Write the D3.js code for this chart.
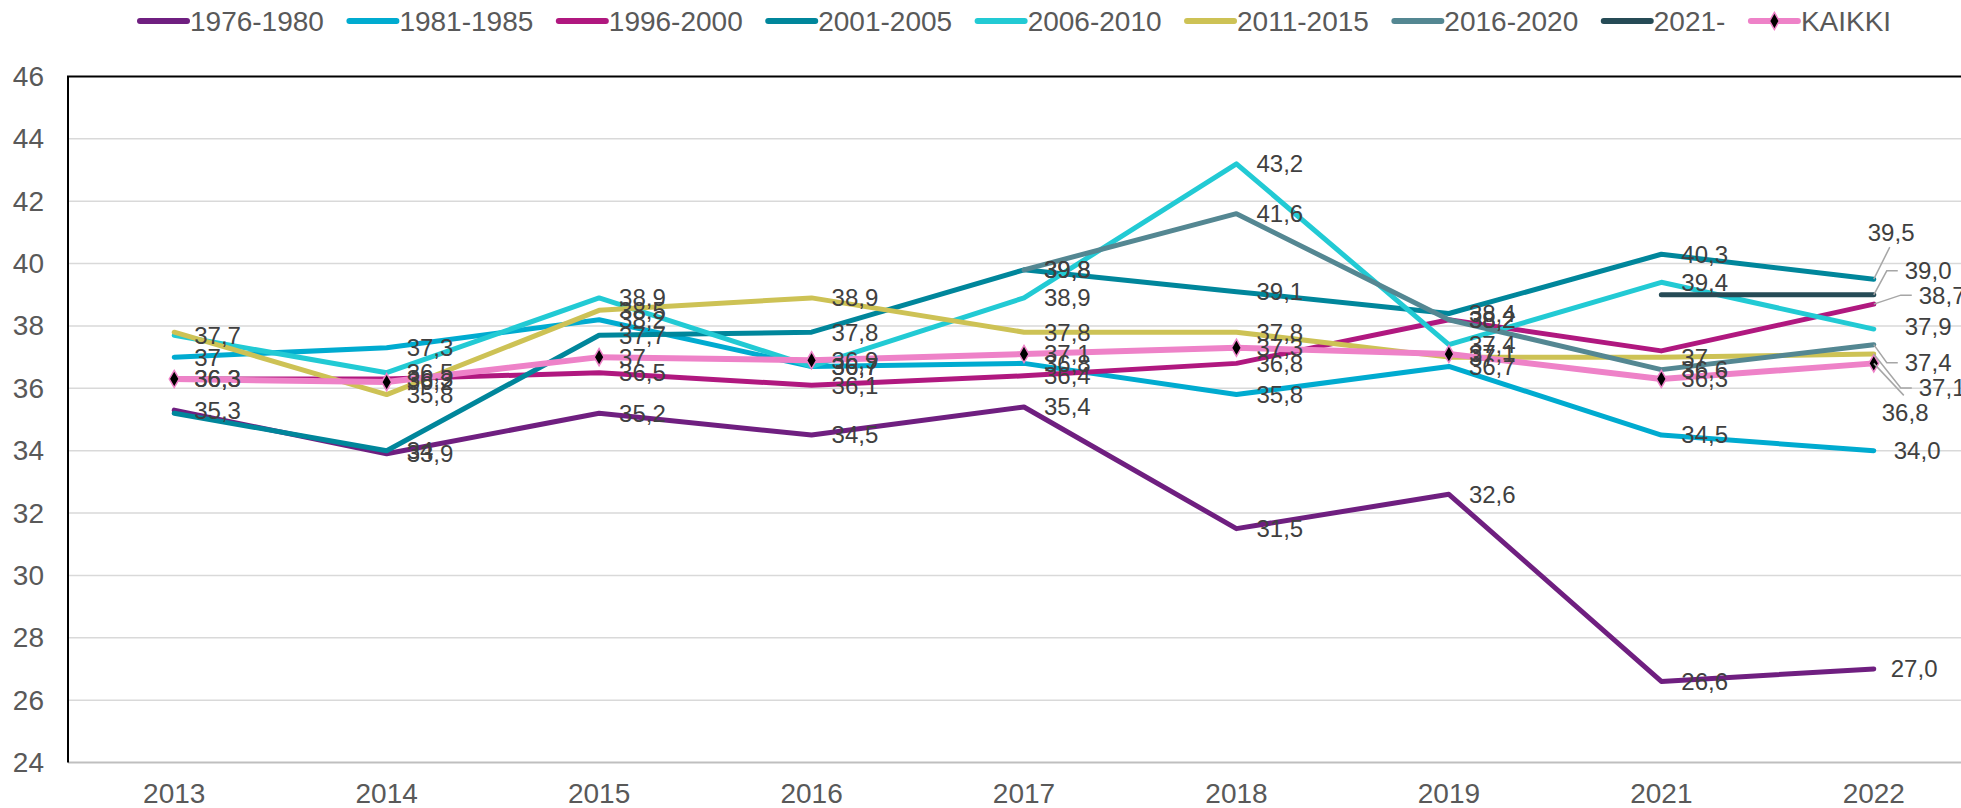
<!DOCTYPE html>
<html>
<head>
<meta charset="utf-8">
<script src="https://cdn.jsdelivr.net/npm/d3@7"></script>
<style>
  html, body { margin: 0; padding: 0; background: #fff; overflow: hidden; }
  text { font-family: "Liberation Sans", Arial, sans-serif; }
</style>
</head>
<body>
<div id="chart"></div>
<script>
// vuodet (x-akseli)
const years = ["2013", "2014", "2015", "2016", "2017", "2018", "2019", "2021", "2022"];

// sarjat, arvot luettu kuvasta
const s1976 = [35.3, 33.9, 35.2, 34.5, 35.4, 31.5, 32.6, 26.6, 27.0];
const s1981 = [37.0, 37.3, 38.2, 36.7, 36.8, 35.8, 36.7, 34.5, 34.0];
const s1996 = [36.3, 36.3, 36.5, 36.1, 36.4, 36.8, 38.2, 37.2, 38.7];
const s2001 = [35.2, 34.0, 37.7, 37.8, 39.8, 39.1, 38.4, 40.3, 39.5];
const s2006 = [37.7, 36.5, 38.9, 36.7, 38.9, 43.2, 37.4, 39.4, 37.9];
const s2011 = [37.8, 35.8, 38.5, 38.9, 37.8, 37.8, 37.0, 37.0, 37.1];
const s2016 = [null, null, null, null, 39.8, 41.6, 38.2, 36.6, 37.4];
const s2021 = [null, null, null, null, null, null, null, 39.0, 39.0];
const kaikki = [36.3, 36.2, 37.0, 36.9, 37.1, 37.3, 37.1, 36.3, 36.8];

const seriesNames = ["1976-1980", "1981-1985", "1996-2000", "2001-2005", "2006-2010", "2011-2015", "2016-2020", "2021-", "KAIKKI"];
const seriesValues = [s1976, s1981, s1996, s2001, s2006, s2011, s2016, s2021, kaikki];
const colors = ["#6f1f80", "#00abd0", "#b0187f", "#00869b", "#22cad4", "#cdc255", "#548792", "#264b56", "#ee82c8"];

const yTicks = [24, 26, 28, 30, 32, 34, 36, 38, 40, 42, 44, 46];

// pisteet joilla ei näy arvoa kuvassa
const hiddenLabels = ["2001-2005|2013", "2011-2015|2013", "1996-2000|2021", "2021-|2021"];

// viimeisen pisteen siirretyt tunnisteet (dx, dy pisteestä)
const lastLabelShift = {
  "1976-1980": [17, 0],
  "1981-1985": [20, 0],
  "1996-2000": [45, -9],
  "2001-2005": [-6, -47],
  "2006-2010": [31, -2],
  "2011-2015": [45, 34],
  "2016-2020": [31, 18],
  "2021-": [31, -24],
  "KAIKKI": [8, 49]
};

const width = 1961,
  height = 808;
const plot = { left: 68, top: 76.5, right: 1980, bottom: 762.5 };
const font = '"Liberation Sans", Arial, sans-serif';

const svg = d3
  .select("#chart")
  .append("svg")
  .attr("width", width)
  .attr("height", height);

const x = d3.scaleBand().domain(years).range([plot.left, plot.right]).padding(0);
const cx = (yr) => x(yr) + x.bandwidth() / 2;
const y = d3.scaleLinear().domain([24, 46]).range([plot.bottom, plot.top]);

const fmt = (v, last) =>
  (last ? v.toFixed(1) : String(Math.round(v * 10) / 10)).replace(".", ",");

// ruudukko
svg
  .append("g")
  .selectAll("line")
  .data(yTicks.filter((t) => t > 24 && t < 46))
  .join("line")
  .attr("x1", plot.left)
  .attr("x2", width)
  .attr("y1", (d) => y(d))
  .attr("y2", (d) => y(d))
  .style("stroke", "#d9d9d9")
  .style("stroke-width", 1.5);

// y-akseli
const yAxis = svg
  .append("g")
  .attr("transform", `translate(${plot.left},0)`)
  .call(d3.axisLeft(y).tickValues(yTicks).tickSize(0).tickPadding(24));
yAxis.select(".domain").remove();
yAxis
  .selectAll("text")
  .style("font-size", "28px")
  .style("fill", "#595959")
  .style("font-family", font);

// x-akseli
const xAxis = svg
  .append("g")
  .attr("transform", `translate(0,${plot.bottom})`)
  .call(d3.axisBottom(x).tickSize(0).tickPadding(21));
xAxis.select(".domain").remove();
xAxis
  .selectAll("text")
  .style("font-size", "28px")
  .style("fill", "#595959")
  .style("font-family", font);

svg
  .append("line")
  .attr("x1", plot.left)
  .attr("x2", width)
  .attr("y1", plot.bottom)
  .attr("y2", plot.bottom)
  .style("stroke", "#bfbfbf")
  .style("stroke-width", 2);

// kehys (ylä ja vasen)
svg
  .append("path")
  .attr("d", `M${plot.left},${plot.bottom}V${plot.top}H${width + 5}`)
  .style("fill", "none")
  .style("stroke", "#000")
  .style("stroke-width", 2);

// viivat
const series = seriesNames.map((name, i) => ({
  name,
  color: colors[i],
  points: years
    .map((yr, j) => ({ yr, v: seriesValues[i][j], last: j === years.length - 1 }))
    .filter((p) => p.v !== null)
}));

const line = d3
  .line()
  .x((p) => cx(p.yr))
  .y((p) => y(p.v));

svg
  .append("g")
  .selectAll("path")
  .data(series)
  .join("path")
  .attr("d", (s) => line(s.points))
  .style("fill", "none")
  .style("stroke", (s) => s.color)
  .style("stroke-width", (s) => (s.name === "KAIKKI" ? 6 : 5))
  .style("stroke-linejoin", "round")
  .style("stroke-linecap", "round");

// KAIKKI-merkit
const kaikkiSeries = series[series.length - 1];
svg
  .append("g")
  .selectAll("path")
  .data(kaikkiSeries.points)
  .join("path")
  .attr("transform", (p) => `translate(${cx(p.yr)},${y(p.v)})`)
  .attr("d", d3.symbol(d3.symbolDiamond, 85))
  .style("fill", "#000")
  .style("stroke", kaikkiSeries.color)
  .style("stroke-width", 1.5);

// tunnisteet
const labels = [];
series.forEach((s) => {
  s.points.forEach((p) => {
    if (hiddenLabels.includes(`${s.name}|${p.yr}`)) return;
    const px = cx(p.yr),
      py = y(p.v);
    const [dx, dy] = p.last ? lastLabelShift[s.name] : [20, 0];
    labels.push({ text: fmt(p.v, p.last), px, py, lx: px + dx, ly: py + dy, last: p.last });
  });
});

// johtoviivat viimeisille tunnisteille
const leaders = labels.filter((l) => l.last && Math.abs(l.ly - l.py) > 5);
svg
  .append("g")
  .selectAll("polyline")
  .data(leaders)
  .join("polyline")
  .attr("points", (l) => {
    if (l.lx - l.px > 20) {
      return `${l.px},${l.py} ${l.lx - 18},${l.ly} ${l.lx - 7},${l.ly}`;
    }
    const endY = l.ly < l.py ? l.ly + 15 : l.ly - 17;
    return `${l.px},${l.py} ${l.lx + 22},${endY}`;
  })
  .style("fill", "none")
  .style("stroke", "#a6a6a6")
  .style("stroke-width", 1.5);

svg
  .append("g")
  .selectAll("text")
  .data(labels)
  .join("text")
  .attr("x", (l) => l.lx)
  .attr("y", (l) => l.ly)
  .attr("dy", "0.35em")
  .style("font-size", "24px")
  .style("fill", "#404040")
  .text((l) => l.text);

// selite
const legend = svg.append("g").attr("transform", "translate(140,21)");
let lx = 0;
series.forEach((s) => {
  const g = legend.append("g").attr("transform", `translate(${lx},0)`);
  g.append("line")
    .attr("x1", 0)
    .attr("x2", 47)
    .style("stroke", s.color)
    .style("stroke-width", 6)
    .style("stroke-linecap", "round");
  if (s.name === "KAIKKI") {
    g.append("path")
      .attr("transform", "translate(23.5,0)")
      .attr("d", d3.symbol(d3.symbolDiamond, 85))
      .style("fill", "#000")
      .style("stroke", s.color)
      .style("stroke-width", 1.5);
  }
  const t = g
    .append("text")
    .attr("x", 50)
    .attr("dy", "0.35em")
    .style("font-size", "28px")
    .style("fill", "#595959")
    .text(s.name);
  lx += 50 + t.node().getComputedTextLength() + 25.5;
});
</script>
</body>
</html>
